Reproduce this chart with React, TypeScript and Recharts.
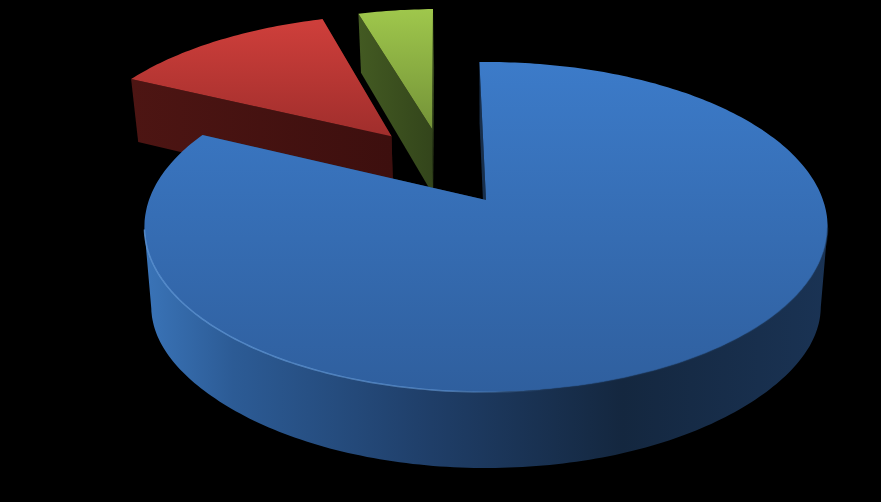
import React from 'react';
import { Pie, PieChart } from 'recharts';

const sliceNames = ['Green', 'Red', 'Blue'];
const sliceValues = [4.4, 13.1, 82.5];

const chartData = sliceNames.map((name, i) => ({ name, value: sliceValues[i] }));

// how far each slice is pulled out of the pie, in pie radius units
const explode: Record<string, [number, number]> = {
  Green: [-0.1725, -0.476],
  Red: [-0.3, -0.425],
  Blue: [0, 0],
};

const looks: Record<string, any> = {
  Green: {
    top: ['#9fc74c', '#749338'],
    wall: [[0, '#43591f'], [1, '#43591f']],
    face: ['#435a22', '#33451b'],
  },
  Red: {
    top: ['#cf3f3b', '#a02e2c'],
    wall: [[0, '#4b1513'], [1, '#3f100f']],
    face: ['#4d1513', '#3d0f0e'],
  },
  Blue: {
    top: ['#3c7bc9', '#2f5f9e'],
    wall: [[0, '#3a74b8'], [0.13, '#2c5b95'], [0.42, '#1f3e68'], [0.7, '#14273f'], [1, '#1a3354']],
    face: ['#1c3759', '#14273f'],
  },
};

// perspective of the pie plane
const CX = 486;
const CY = 200;
const RX = 337;
const RY = 160.6;
const TILT = 0.1636;
const BOTTOM_SHRINK = 0.98;

// sideBump squares off the lower outline at the left and right ends of the blue slice
const project = (u: number, v: number, down: boolean, sideBump = 0) => {
  const w = 1 - TILT * v;
  const x = CX + (RX * u) / w;
  const y = CY + (RY * v) / w;
  if (!down) return [x, y];
  return [CX + (x - CX) * BOTTOM_SHRINK, y + 69 + 7 * v + sideBump * Math.pow(u, 8)];
};

const toPath = (pts: number[][]) =>
  pts.map((p, i) => `${i ? 'L' : 'M'}${p[0].toFixed(1)},${p[1].toFixed(1)}`).join(' ') + ' Z';

function Slice3D(props: any) {
  const { startAngle, endAngle } = props;
  const name: string = props.name ?? props.payload?.name;
  const look = looks[name];
  const [ox, oy] = explode[name];
  const bump = name === 'Blue' ? 10 : 0;

  const rim: number[][] = [];
  const steps = Math.ceil(Math.abs(endAngle - startAngle));
  for (let i = 0; i <= steps; i++) {
    const a = ((startAngle + ((endAngle - startAngle) * i) / steps) * Math.PI) / 180;
    rim.push([ox + Math.cos(a), oy - Math.sin(a)]);
  }
  const topArc = rim.map(([u, v]) => project(u, v, false));
  const lowArc = rim.map(([u, v]) => project(u, v, true, bump));
  const apexTop = project(ox, oy, false);
  const apexLow = project(ox, oy, true);
  const last = rim.length - 1;

  // only the part of the outer wall that faces the viewer
  const frontTop = topArc.filter((_, i) => rim[i][1] - oy > TILT);
  const frontLow = lowArc.filter((_, i) => rim[i][1] - oy > TILT);

  const topY = Math.min(...topArc.map((p) => p[1]));
  const lowY = Math.max(apexTop[1], ...topArc.map((p) => p[1]));
  const xs = [...topArc.map((p) => p[0]), apexTop[0]];
  const left = Math.min(...xs);
  const right = Math.max(...xs);

  return (
    <g>
      <defs>
        <linearGradient id={`top${name}`} gradientUnits="userSpaceOnUse" x1={0} x2={0} y1={topY} y2={lowY}>
          <stop offset="0" stopColor={look.top[0]} />
          <stop offset="1" stopColor={look.top[1]} />
        </linearGradient>
        <linearGradient id={`wall${name}`} gradientUnits="userSpaceOnUse" x1={left} x2={right} y1={0} y2={0}>
          {look.wall.map(([o, c]: [number, string]) => (
            <stop key={o} offset={o} stopColor={c} />
          ))}
        </linearGradient>
        <linearGradient id={`face${name}`} gradientUnits="userSpaceOnUse" x1={left} x2={right} y1={0} y2={0}>
          <stop offset="0" stopColor={look.face[0]} />
          <stop offset="1" stopColor={look.face[1]} />
        </linearGradient>
        <linearGradient id={`rim${name}`} gradientUnits="userSpaceOnUse" x1={left} x2={right} y1={0} y2={0}>
          <stop offset="0" stopColor="#5f97d8" stopOpacity={0.8} />
          <stop offset="0.45" stopColor="#6ea6e6" stopOpacity={0.55} />
          <stop offset="0.6" stopColor="#1c3759" stopOpacity={0.35} />
          <stop offset="1" stopColor="#1c3759" stopOpacity={0.5} />
        </linearGradient>
      </defs>
      {frontTop.length > 1 && (
        <path d={toPath([...frontTop, ...[...frontLow].reverse()])} fill={`url(#wall${name})`} />
      )}
      <path d={toPath([topArc[0], apexTop, apexLow, lowArc[0]])} fill={`url(#face${name})`} />
      <path d={toPath([topArc[last], apexTop, apexLow, lowArc[last]])} fill={`url(#face${name})`} />
      <path d={toPath([apexTop, ...topArc])} fill={`url(#top${name})`} />
      {name === 'Blue' && (
        <polyline
          points={frontTop.map((p) => p.join(',')).join(' ')}
          fill="none"
          stroke={`url(#rim${name})`}
          strokeWidth={1.5}
        />
      )}
    </g>
  );
}

export default function App() {
  return (
    <div style={{ position: 'fixed', left: 0, top: 0, width: 881, height: 502, background: '#000' }}>
      <PieChart width={881} height={502} margin={{ top: 0, right: 0, bottom: 0, left: 0 }}>
        <Pie
          data={chartData}
          dataKey="value"
          nameKey="name"
          cx={CX}
          cy={CY}
          outerRadius={RX}
          startAngle={91.3}
          endAngle={451.3}
          stroke="none"
          isAnimationActive={false}
          shape={Slice3D}
        />
      </PieChart>
    </div>
  );
}
